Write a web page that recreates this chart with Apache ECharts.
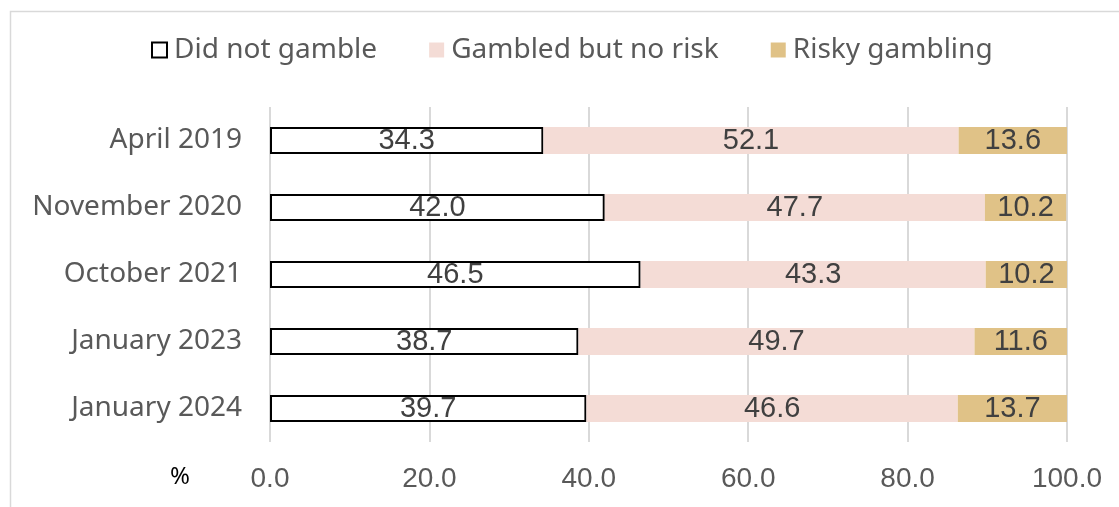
<!DOCTYPE html>
<html>
<head>
<meta charset="utf-8">
<script src="https://cdn.jsdelivr.net/npm/echarts@6/dist/echarts.min.js"></script>
<style>
  html, body { margin: 0; padding: 0; background: #fff; }
  #chart { width: 1119px; height: 507px; }
</style>
</head>
<body>
<div id="chart"></div>
<script>
// categories listed bottom-to-top as the y axis draws them
const periods = ['January 2024', 'January 2023', 'October 2021', 'November 2020', 'April 2019']
const didNotGamble = [39.7, 38.7, 46.5, 42.0, 34.3]
const gambledNoRisk = [46.6, 49.7, 43.3, 47.7, 52.1]
const riskyGambling = [13.7, 11.6, 10.2, 10.2, 13.6]
const seriesNames = ['Did not gamble', 'Gambled but no risk', 'Risky gambling']

const labelFont = '"Noto Sans", sans-serif'
const numFont = '"Liberation Sans", Arial, sans-serif'

const chart = echarts.init(document.getElementById('chart'))

const valueLabel = {
  show: true,
  position: 'inside',
  color: '#404040',
  fontSize: 29,
  fontFamily: numFont,
  formatter: (p) => p.value.toFixed(1)
}

chart.setOption({
  animation: false,
  graphic: [
    {
      type: 'rect',
      shape: { x: 10.5, y: 11.5, width: 1130, height: 520 },
      style: { fill: 'none', stroke: '#d9d9d9', lineWidth: 1.5 },
      silent: true
    },
    {
      type: 'text',
      left: 170,
      top: 465,
      style: { text: '%', fill: '#000', font: '24px ' + labelFont }
    }
  ],
  legend: {
    top: 31,
    left: 146,
    icon: 'rect',
    itemWidth: 15,
    itemHeight: 15,
    itemGap: 52,
    textStyle: { color: '#595959', fontSize: 28, fontFamily: labelFont, padding: [0, 0, 0, 2] },
    data: seriesNames
  },
  grid: { left: 270, right: 52, top: 107, bottom: 65 },
  xAxis: {
    type: 'value',
    min: 0,
    max: 100,
    interval: 20,
    axisLine: { show: false },
    axisTick: { show: false },
    splitLine: { lineStyle: { color: '#d9d9d9', width: 2 } },
    axisLabel: {
      color: '#595959',
      fontSize: 28,
      fontFamily: numFont,
      margin: 23,
      formatter: (v) => v.toFixed(1)
    }
  },
  yAxis: {
    type: 'category',
    data: periods,
    axisLine: { show: false },
    axisTick: { show: false },
    axisLabel: { color: '#595959', fontSize: 28, fontFamily: labelFont, margin: 28 }
  },
  series: [
    {
      name: seriesNames[0],
      type: 'bar',
      stack: 'total',
      barWidth: '40%',
      data: didNotGamble,
      itemStyle: { color: '#fff', borderColor: '#000', borderWidth: 2 },
      label: valueLabel
    },
    {
      name: seriesNames[1],
      type: 'bar',
      stack: 'total',
      data: gambledNoRisk,
      itemStyle: { color: '#F4DCD6' },
      label: valueLabel
    },
    {
      name: seriesNames[2],
      type: 'bar',
      stack: 'total',
      data: riskyGambling,
      itemStyle: { color: '#E0C287' },
      label: valueLabel
    }
  ]
})
</script>
</body>
</html>
